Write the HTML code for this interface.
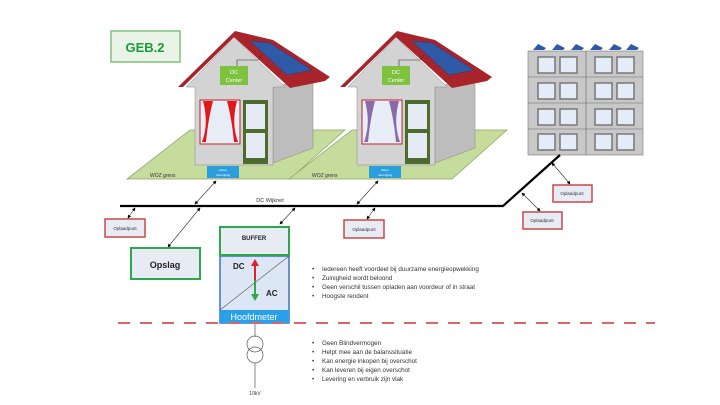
<!DOCTYPE html>
<html><head><meta charset="utf-8"><style>
html,body{margin:0;padding:0;background:#fff;}
svg{display:block;font-family:"Liberation Sans",sans-serif;}
</style></head><body>
<svg width="720" height="405" viewBox="0 0 720 405" xmlns="http://www.w3.org/2000/svg">
<defs>
<marker id="a" markerWidth="6" markerHeight="6" refX="5" refY="3" orient="auto"><path d="M0,0L6,3L0,6z" fill="#000"/></marker>
<marker id="b" markerWidth="6" markerHeight="6" refX="1" refY="3" orient="auto"><path d="M6,0L0,3L6,6z" fill="#000"/></marker>
<g id="house">
<polygon points="127,179 190,130 345,130 290,179" fill="#c5dc9c" stroke="#8aa060" stroke-width="0.7"/>
<polygon points="273,86 313,81 313,148 273,163" fill="#bdbdbd" stroke="#888" stroke-width="0.5"/>
<polygon points="195,165 195,87 186,87 234,37 285,87 273,87 273,165" fill="#d3d3d3" stroke="#888" stroke-width="0.5"/>
<polygon points="178,87 235,31 273,40 330,77 325,81 290,88 234,37 183,87" fill="#a8242a"/>
<polygon points="250,41 270,43 312,70 287,75" fill="#2e5aa8" stroke="#1d3c78" stroke-width="0.5"/>
<rect x="220" y="66" width="28" height="19" fill="#7ec23d"/>
<text x="234" y="74" font-size="5.5" fill="#fff" text-anchor="middle">DC</text>
<text x="234" y="82" font-size="5.5" fill="#fff" text-anchor="middle">Center</text>
<path d="M237,66V60H258L262,55" fill="none" stroke="#333" stroke-width="0.6"/>
<rect x="200" y="100" width="40" height="44" fill="#e8eef8" stroke="#b22" stroke-width="1"/>
<rect x="243" y="100" width="25" height="64" fill="#4c6b2c"/>
<rect x="246" y="104" width="19" height="25" fill="#e4eaf4"/>
<rect x="246" y="133" width="19" height="25" fill="#e4eaf4"/>
<text x="150" y="177" font-size="5" fill="#333">WOZ grens</text>
<rect x="207" y="166" width="32" height="12" fill="#2b9ee0"/>
<text x="223" y="171" font-size="3" fill="#fff" text-anchor="middle">Meter</text>
<text x="223" y="176" font-size="3" fill="#fff" text-anchor="middle">Vereniging</text>
</g>
</defs>
<rect x="111" y="31" width="69" height="31" fill="#e9f4e6" stroke="#7cc47c" stroke-width="1.5"/>
<text x="145" y="52" font-size="13" font-weight="bold" fill="#1e9a3e" text-anchor="middle">GEB.2</text>
<use href="#house"/>
<path d="M203,101 q6,22 -1,41 h4 q2,-22 7,-41z M237,101 q-6,22 1,41 h-4 q-2,-22 -7,-41z" fill="#e01818"/>
<g transform="translate(162,0)"><use href="#house"/>
<path d="M203,101 q6,22 -1,41 h4 q2,-22 7,-41z M237,101 q-6,22 1,41 h-4 q-2,-22 -7,-41z" fill="#8a6aa8"/></g>
<!-- building -->
<g fill="#2e5aa8"><polygon points="533,50 538,44 546,48 544,50"/><polygon points="552,50 557,44 565,48 563,50"/><polygon points="571,50 576,44 584,48 582,50"/><polygon points="590,50 595,44 603,48 601,50"/><polygon points="609,50 614,44 622,48 620,50"/><polygon points="626,50 631,44 639,48 637,50"/></g>
<rect x="528" y="51" width="115" height="104" fill="#c8c8c8" stroke="#777" stroke-width="0.6"/>
<line x1="586" y1="51" x2="586" y2="155" stroke="#666" stroke-width="0.6"/>
<g stroke="#666" stroke-width="0.6"><line x1="528" y1="77" x2="643" y2="77"/><line x1="528" y1="103" x2="643" y2="103"/><line x1="528" y1="129" x2="643" y2="129"/></g>
<g fill="#e4ecf8" stroke="#777" stroke-width="1.5">
<rect x="538" y="57" width="17" height="16"/><rect x="560" y="57" width="17" height="16"/><rect x="595" y="57" width="17" height="16"/><rect x="617" y="57" width="17" height="16"/>
<rect x="538" y="83" width="17" height="16"/><rect x="560" y="83" width="17" height="16"/><rect x="595" y="83" width="17" height="16"/><rect x="617" y="83" width="17" height="16"/>
<rect x="538" y="109" width="17" height="16"/><rect x="560" y="109" width="17" height="16"/><rect x="595" y="109" width="17" height="16"/><rect x="617" y="109" width="17" height="16"/>
<rect x="538" y="134" width="17" height="16"/><rect x="560" y="134" width="17" height="16"/><rect x="595" y="134" width="17" height="16"/><rect x="617" y="134" width="17" height="16"/>
</g>
<!-- network -->
<path d="M120,206H503L560,155" fill="none" stroke="#000" stroke-width="2.2"/>
<text x="270" y="202" font-size="5.5" fill="#333" text-anchor="middle">DC Wijknet</text>
<g stroke="#333" stroke-width="0.6" marker-start="url(#b)" marker-end="url(#a)">
<line x1="195" y1="204" x2="216" y2="181"/>
<line x1="357" y1="204" x2="378" y2="181"/>
<line x1="135" y1="208" x2="128" y2="218"/>
<line x1="200" y1="208" x2="168" y2="247"/>
<line x1="295" y1="208" x2="280" y2="224"/>
<line x1="375" y1="208" x2="367" y2="219"/>
<line x1="552" y1="163" x2="570" y2="184"/>
<line x1="522" y1="193" x2="540" y2="211"/>
</g>
<g fill="#e6ebf4" stroke="#c84848" stroke-width="1.5">
<rect x="105" y="219" width="40" height="18"/><rect x="344" y="220" width="40" height="18"/>
<rect x="553" y="185" width="39" height="17"/><rect x="523" y="212" width="39" height="17"/>
</g>
<g font-size="4.5" fill="#333" text-anchor="middle">
<text x="125" y="230">Oplaadpunt</text><text x="364" y="231">Oplaadpunt</text>
<text x="572" y="195">Oplaadpunt</text><text x="542" y="222">Oplaadpunt</text>
</g>
<rect x="131" y="248" width="69" height="31" fill="#e6ebf4" stroke="#2ea84a" stroke-width="2"/>
<text x="165" y="268" font-size="9" font-weight="bold" fill="#222" text-anchor="middle">Opslag</text>
<rect x="220" y="256" width="69" height="67" fill="#dde6f4" stroke="#3a6fd0" stroke-width="1.5"/>
<line x1="220" y1="310" x2="289" y2="256" stroke="#555" stroke-width="0.6"/>
<rect x="220" y="310" width="69" height="13" fill="#2aa0e8"/>
<text x="254" y="320" font-size="9" fill="#fff" text-anchor="middle">Hoofdmeter</text>
<rect x="220" y="227" width="69" height="28" fill="#e6ebf4" stroke="#2ea84a" stroke-width="2"/>
<text x="254" y="240" font-size="6" font-weight="bold" fill="#222" text-anchor="middle">BUFFER</text>
<text x="233" y="269" font-size="8" font-weight="bold" fill="#222">DC</text>
<text x="266" y="296" font-size="8" font-weight="bold" fill="#222">AC</text>
<line x1="255" y1="280" x2="255" y2="265" stroke="#e0202a" stroke-width="2"/><polygon points="251,266 259,266 255,259" fill="#e0202a"/>
<line x1="255" y1="280" x2="255" y2="295" stroke="#2ea84a" stroke-width="2"/><polygon points="251,294 259,294 255,301" fill="#2ea84a"/>
<line x1="118" y1="323" x2="655" y2="323" stroke="#d86868" stroke-width="2" stroke-dasharray="12,10"/>
<line x1="255" y1="324" x2="255" y2="337" stroke="#555" stroke-width="0.7"/>
<circle cx="255" cy="344" r="8" fill="none" stroke="#555" stroke-width="0.7"/>
<circle cx="255" cy="355" r="8" fill="none" stroke="#555" stroke-width="0.7"/>
<line x1="255" y1="363" x2="255" y2="388" stroke="#555" stroke-width="0.7"/>
<text x="255" y="395" font-size="5" fill="#333" text-anchor="middle">10kV</text>
<g font-size="6.3" fill="#333">
<text x="312" y="271">•</text><text x="322" y="271">Iedereen heeft voordeel bij duurzame energieopwekking</text>
<text x="312" y="280">•</text><text x="322" y="280">Zuinigheid wordt beloond</text>
<text x="312" y="289">•</text><text x="322" y="289">Geen verschil tussen opladen aan voordeur of in straat</text>
<text x="312" y="298">•</text><text x="322" y="298">Hoogste rendent</text>
<text x="312" y="345">•</text><text x="322" y="345">Geen Blindvermogen</text>
<text x="312" y="354">•</text><text x="322" y="354">Helpt mee aan de balanssituatie</text>
<text x="312" y="363">•</text><text x="322" y="363">Kan energie inkopen bij overschot</text>
<text x="312" y="372">•</text><text x="322" y="372">Kan leveren bij eigen overschot</text>
<text x="312" y="381">•</text><text x="322" y="381">Levering en verbruik zijn vlak</text>
</g>
</svg>
</body></html>
